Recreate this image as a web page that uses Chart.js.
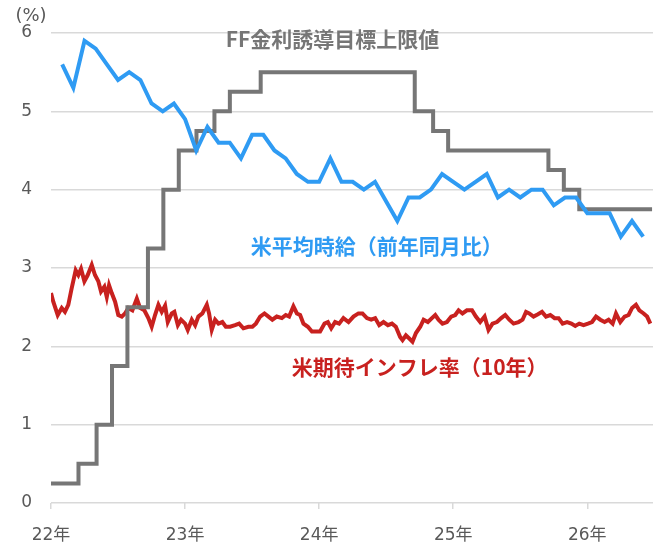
<!DOCTYPE html>
<html>
<head>
<meta charset="utf-8">
<script src="https://cdn.jsdelivr.net/npm/chart.js"></script>
<style>
  html, body { margin: 0; padding: 0; background: #fff; }
  #wrap { width: 661px; height: 544px; }
</style>
</head>
<body>
<div id="wrap"><canvas id="rateChart" width="661" height="544"></canvas></div>
<script>
// x values are years since 2000 (22 = 2022年)
const yearTicks = [22, 23, 24, 25, 26];

// FF rate upper bound: change dates and new level
const ffDates = [22.000, 22.205, 22.340, 22.455, 22.570, 22.723, 22.838, 22.953, 23.085, 23.219,
                 23.334, 23.564, 24.713, 24.850, 24.962, 25.710, 25.825, 25.940, 26.483];
const ffLevels = [0.25, 0.50, 1.00, 1.75, 2.50, 3.25, 4.00, 4.50, 4.75, 5.00,
                  5.25, 5.50, 5.00, 4.75, 4.50, 4.25, 4.00, 3.75, 3.75];

// average hourly earnings, y/y %, monthly from Jan 2022
const wageYoY = [
  5.6, 5.3, 5.9, 5.8, 5.6, 5.4, 5.5, 5.4, 5.1, 5.0, 5.1, 4.9,
  4.5, 4.8, 4.6, 4.6, 4.4, 4.7, 4.7, 4.5, 4.4, 4.2, 4.1, 4.1,
  4.4, 4.1, 4.1, 4.0, 4.1, 3.85, 3.6, 3.9, 3.9, 4.0, 4.2, 4.1,
  4.0, 4.1, 4.2, 3.9, 4.0, 3.9, 4.0, 4.0, 3.8, 3.9, 3.9, 3.7,
  3.7, 3.7, 3.4, 3.6, 3.4
];

// 10y breakeven inflation
const beDates = [
  22.000, 22.017, 22.050, 22.080, 22.104, 22.129, 22.154, 22.184, 22.204, 22.224,
  22.249, 22.274, 22.304, 22.328, 22.353, 22.373, 22.398, 22.416, 22.433, 22.453,
  22.478, 22.502, 22.528, 22.552, 22.577, 22.607, 22.640, 22.664, 22.696, 22.726,
  22.751, 22.776, 22.801, 22.826, 22.851, 22.871, 22.901, 22.920, 22.946, 22.970,
  23.000, 23.020, 23.050, 23.075, 23.099, 23.129, 23.162, 23.179, 23.199, 23.224,
  23.249, 23.278, 23.304, 23.336, 23.373, 23.403, 23.435, 23.472, 23.502, 23.528,
  23.560, 23.592, 23.622, 23.651, 23.684, 23.722, 23.751, 23.776, 23.808, 23.834,
  23.858, 23.883, 23.916, 23.946, 23.975, 24.007, 24.040, 24.065, 24.090, 24.119,
  24.149, 24.181, 24.219, 24.256, 24.293, 24.323, 24.356, 24.388, 24.418, 24.448,
  24.480, 24.513, 24.543, 24.572, 24.604, 24.622, 24.647, 24.672, 24.696, 24.722,
  24.754, 24.779, 24.811, 24.841, 24.866, 24.890, 24.920, 24.953, 24.985, 25.015,
  25.040, 25.069, 25.102, 25.140, 25.169, 25.201, 25.234, 25.263, 25.293, 25.326,
  25.358, 25.388, 25.418, 25.450, 25.487, 25.517, 25.543, 25.567, 25.599, 25.632,
  25.662, 25.692, 25.724, 25.756, 25.786, 25.816, 25.849, 25.881, 25.910, 25.940,
  25.972, 26.005, 26.035, 26.065, 26.097, 26.129, 26.159, 26.189, 26.214, 26.246,
  26.278, 26.308, 26.334, 26.363, 26.388, 26.420, 26.446, 26.470
];
const beRate = [
  2.68, 2.57, 2.40, 2.49, 2.44, 2.53, 2.74, 2.97, 2.91, 2.99,
  2.83, 2.91, 3.04, 2.91, 2.83, 2.70, 2.76, 2.63, 2.78, 2.68,
  2.57, 2.40, 2.38, 2.42, 2.49, 2.46, 2.61, 2.49, 2.46, 2.36,
  2.25, 2.40, 2.53, 2.44, 2.52, 2.31, 2.42, 2.44, 2.27, 2.34,
  2.29, 2.21, 2.34, 2.27, 2.38, 2.42, 2.53, 2.42, 2.21, 2.34,
  2.29, 2.31, 2.25, 2.25, 2.27, 2.29, 2.23, 2.25, 2.25, 2.29,
  2.38, 2.42, 2.38, 2.34, 2.38, 2.36, 2.40, 2.38, 2.51, 2.42,
  2.40, 2.29, 2.25, 2.19, 2.19, 2.19, 2.29, 2.31, 2.23, 2.31,
  2.29, 2.36, 2.31, 2.38, 2.42, 2.42, 2.36, 2.34, 2.36, 2.27,
  2.31, 2.27, 2.29, 2.25, 2.12, 2.08, 2.14, 2.10, 2.06, 2.17,
  2.25, 2.34, 2.31, 2.36, 2.40, 2.34, 2.29, 2.31, 2.38, 2.40,
  2.46, 2.42, 2.46, 2.46, 2.38, 2.31, 2.38, 2.21, 2.29, 2.31,
  2.36, 2.40, 2.34, 2.29, 2.31, 2.34, 2.44, 2.42, 2.38, 2.41,
  2.44, 2.38, 2.40, 2.36, 2.36, 2.29, 2.31, 2.29, 2.26, 2.29,
  2.27, 2.29, 2.31, 2.38, 2.34, 2.31, 2.34, 2.29, 2.42, 2.31,
  2.38, 2.40, 2.49, 2.53, 2.46, 2.42, 2.38, 2.29
];

const GRAY = '#767676';
const BLUE = '#2f9bf3';
const RED = '#c8211f';
const FONT = "'Noto Sans CJK JP', 'Noto Sans', sans-serif";
const TICK_FONT = "'DejaVu Sans', 'Noto Sans CJK JP', sans-serif";

const ffPoints = ffDates.map((x, i) => ({ x: x, y: ffLevels[i] }));
const wagePoints = wageYoY.map((v, i) => ({ x: 22 + (i + 1) / 12, y: v }));
const bePoints = beDates.map((x, i) => ({ x: x, y: beRate[i] }));

// series labels placed in data coordinates
const seriesLabels = [
  { text: 'FF金利誘導目標上限値', x: 24.10, y: 5.92, color: GRAY },
  { text: '米平均時給（前年同月比）', x: 24.43, y: 3.28, color: BLUE },
  { text: '米期待インフレ率（10年）', x: 24.75, y: 1.74, color: RED }
];

const labelPlugin = {
  id: 'seriesLabels',
  afterDatasetsDraw(chart) {
    const c = chart.ctx;
    const xs = chart.scales.x, ys = chart.scales.y;
    c.save();
    c.textAlign = 'center';
    c.textBaseline = 'middle';
    c.font = "bold 21px " + FONT;
    seriesLabels.forEach(l => {
      c.fillStyle = l.color;
      c.fillText(l.text, xs.getPixelForValue(l.x), ys.getPixelForValue(l.y));
    });
    c.font = "18px " + TICK_FONT;
    c.fillStyle = '#595959';
    c.fillText('(%)', 31, 16);
    c.restore();
  }
};

const ctx = document.getElementById('rateChart').getContext('2d');
new Chart(ctx, {
  type: 'line',
  data: {
    datasets: [
      {
        label: '米平均時給（前年同月比）',
        data: wagePoints,
        borderColor: BLUE,
        borderWidth: 4,
        pointRadius: 0,
        tension: 0
      },
      {
        label: 'FF金利誘導目標上限値',
        data: ffPoints,
        borderColor: GRAY,
        borderWidth: 4,
        pointRadius: 0,
        stepped: true
      },
      {
        label: '米期待インフレ率（10年）',
        data: bePoints,
        borderColor: RED,
        borderWidth: 4,
        pointRadius: 0,
        tension: 0
      }
    ]
  },
  options: {
    responsive: false,
    animation: false,
    layout: { padding: { top: 33, right: 8, left: 0, bottom: 0 } },
    plugins: {
      legend: { display: false },
      tooltip: { enabled: false },
      title: { display: false }
    },
    scales: {
      x: {
        type: 'linear',
        min: 22,
        max: 26.49,
        afterFit: s => { s.height = 41; },
        afterBuildTicks: s => { s.ticks = yearTicks.map(v => ({ value: v })); },
        ticks: {
          callback: v => v + '年',
          color: '#595959',
          font: { family: TICK_FONT, size: 17 },
          padding: 16,
          maxRotation: 0
        },
        grid: { drawOnChartArea: false, drawTicks: true, tickLength: 6, color: '#d9d9d9', lineWidth: 1.5 },
        border: { display: false }
      },
      y: {
        min: 0,
        max: 6,
        afterFit: s => { s.width = 51; },
        ticks: {
          stepSize: 1,
          color: '#595959',
          font: { family: TICK_FONT, size: 17 },
          padding: 19
        },
        grid: { color: '#d9d9d9', lineWidth: 1.5, drawTicks: false },
        border: { display: false }
      }
    }
  },
  plugins: [labelPlugin]
});
</script>
</body>
</html>
